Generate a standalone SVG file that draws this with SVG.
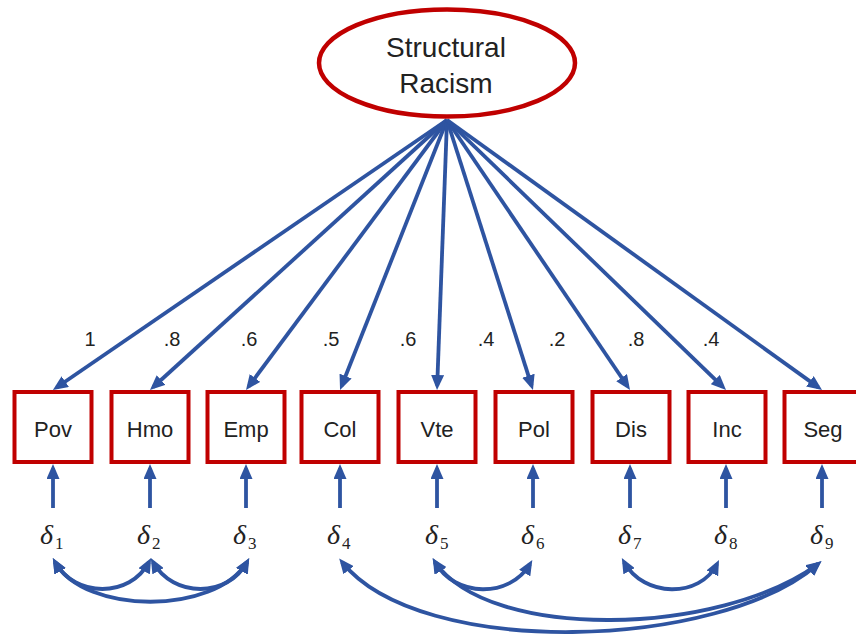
<svg xmlns="http://www.w3.org/2000/svg" width="856" height="635" viewBox="0 0 856 635">
<style>
.box{fill:#fff;stroke:#C00000;stroke-width:4}
.lat{fill:#fff;stroke:#C00000;stroke-width:4.5}
.lbl{font-family:"Liberation Sans",Arial,sans-serif;font-size:22px;fill:#222;text-anchor:middle}
.big{font-family:"Liberation Sans",Arial,sans-serif;font-size:28px;fill:#222;text-anchor:middle}
.w{font-family:"Liberation Sans",Arial,sans-serif;font-size:20px;fill:#222;text-anchor:middle}
.d{font-family:"Liberation Serif","DejaVu Serif",serif;font-size:28px;font-style:italic;fill:#222}
.sub{font-style:normal;font-size:17px}
.c{fill:none;stroke:#2E54A1;stroke-width:3.8}
.a{marker-end:url(#ah)}
.b{marker-start:url(#ah);marker-end:url(#ah)}
</style>
<defs>
<marker id="ah" markerUnits="userSpaceOnUse" markerWidth="15" markerHeight="13" viewBox="0 0 15 13" refX="10.5" refY="6.5" orient="auto-start-reverse">
<path d="M0,0 L15,6.5 L0,13 z" fill="#2E54A1"/>
</marker>
</defs>
<rect width="856" height="635" fill="#fff"/>
<g id="connectors">
<path class="c a" d="M447,120 L56.6,387.5"/>
<path class="c a" d="M447,120 L153.3,387"/>
<path class="c a" d="M447,120 L248.7,386.4"/>
<path class="c a" d="M447,120 L341.7,385.8"/>
<path class="c a" d="M447,120 L437.2,385.5"/>
<path class="c a" d="M447,120 L531.6,385.7"/>
<path class="c a" d="M447,120 L627.5,386.3"/>
<path class="c a" d="M447,120 L722.8,386.9"/>
<path class="c a" d="M447,120 L818.4,387.4"/>
<path class="c a" d="M53,508 L53,468.5"/>
<path class="c a" d="M150,508 L150,468.5"/>
<path class="c a" d="M246,508 L246,468.5"/>
<path class="c a" d="M340,508 L340,468.5"/>
<path class="c a" d="M437,508 L437,468.5"/>
<path class="c a" d="M533,508 L533,468.5"/>
<path class="c a" d="M630,508 L630,468.5"/>
<path class="c a" d="M726,508 L726,468.5"/>
<path class="c a" d="M822,508 L822,468.5"/>
<path class="c b" d="M55,562 C75,598 130,598 149,562"/>
<path class="c b" d="M153,562 C173,598 228,598 247,562"/>
<path class="c b" d="M55,562 C85,615 215,615 247,562"/>
<path class="c b" d="M342,562 C420,660 720,650 818,564"/>
<path class="c b" d="M435,562 C490,642 720,636 818,564"/>
<path class="c b" d="M435,562 C455,598 510,598 530,564"/>
<path class="c b" d="M624,562 C644,598 700,598 717,564"/>
</g>
<g id="racism">
<ellipse class="lat" cx="447" cy="63" rx="128" ry="53.5"/>
<text class="big" x="446" y="57">Structural</text>
<text class="big" x="446" y="93">Racism</text>
</g>
<g id="pov"><rect class="box" x="14.5" y="392" width="77" height="70"/><text class="lbl" x="53" y="437">Pov</text></g>
<g id="hmo"><rect class="box" x="111.5" y="392" width="77" height="70"/><text class="lbl" x="150" y="437">Hmo</text></g>
<g id="emp"><rect class="box" x="207.5" y="392" width="77" height="70"/><text class="lbl" x="246" y="437">Emp</text></g>
<g id="col"><rect class="box" x="301.5" y="392" width="77" height="70"/><text class="lbl" x="340" y="437">Col</text></g>
<g id="vte"><rect class="box" x="398.5" y="392" width="77" height="70"/><text class="lbl" x="437" y="437">Vte</text></g>
<g id="pol"><rect class="box" x="495.5" y="392" width="77" height="70"/><text class="lbl" x="534" y="437">Pol</text></g>
<g id="dis"><rect class="box" x="592.5" y="392" width="77" height="70"/><text class="lbl" x="631" y="437">Dis</text></g>
<g id="inc"><rect class="box" x="688.5" y="392" width="77" height="70"/><text class="lbl" x="727" y="437">Inc</text></g>
<g id="seg"><rect class="box" x="784.5" y="392" width="77" height="70"/><text class="lbl" x="823" y="437">Seg</text></g>
<g id="weights">
<text class="w" x="90" y="346">1</text>
<text class="w" x="172" y="346">.8</text>
<text class="w" x="249" y="346">.6</text>
<text class="w" x="331" y="346">.5</text>
<text class="w" x="408" y="346">.6</text>
<text class="w" x="486" y="346">.4</text>
<text class="w" x="557" y="346">.2</text>
<text class="w" x="636" y="346">.8</text>
<text class="w" x="711" y="346">.4</text>
</g>
<g id="d1"><text class="d" x="40" y="544">δ<tspan class="sub" dx="2" dy="5">1</tspan></text></g>
<g id="d2"><text class="d" x="137" y="544">δ<tspan class="sub" dx="2" dy="5">2</tspan></text></g>
<g id="d3"><text class="d" x="233" y="544">δ<tspan class="sub" dx="2" dy="5">3</tspan></text></g>
<g id="d4"><text class="d" x="327" y="544">δ<tspan class="sub" dx="2" dy="5">4</tspan></text></g>
<g id="d5"><text class="d" x="425" y="544">δ<tspan class="sub" dx="2" dy="5">5</tspan></text></g>
<g id="d6"><text class="d" x="521" y="544">δ<tspan class="sub" dx="2" dy="5">6</tspan></text></g>
<g id="d7"><text class="d" x="618" y="544">δ<tspan class="sub" dx="2" dy="5">7</tspan></text></g>
<g id="d8"><text class="d" x="714" y="544">δ<tspan class="sub" dx="2" dy="5">8</tspan></text></g>
<g id="d9"><text class="d" x="810" y="544">δ<tspan class="sub" dx="2" dy="5">9</tspan></text></g>
</svg>
